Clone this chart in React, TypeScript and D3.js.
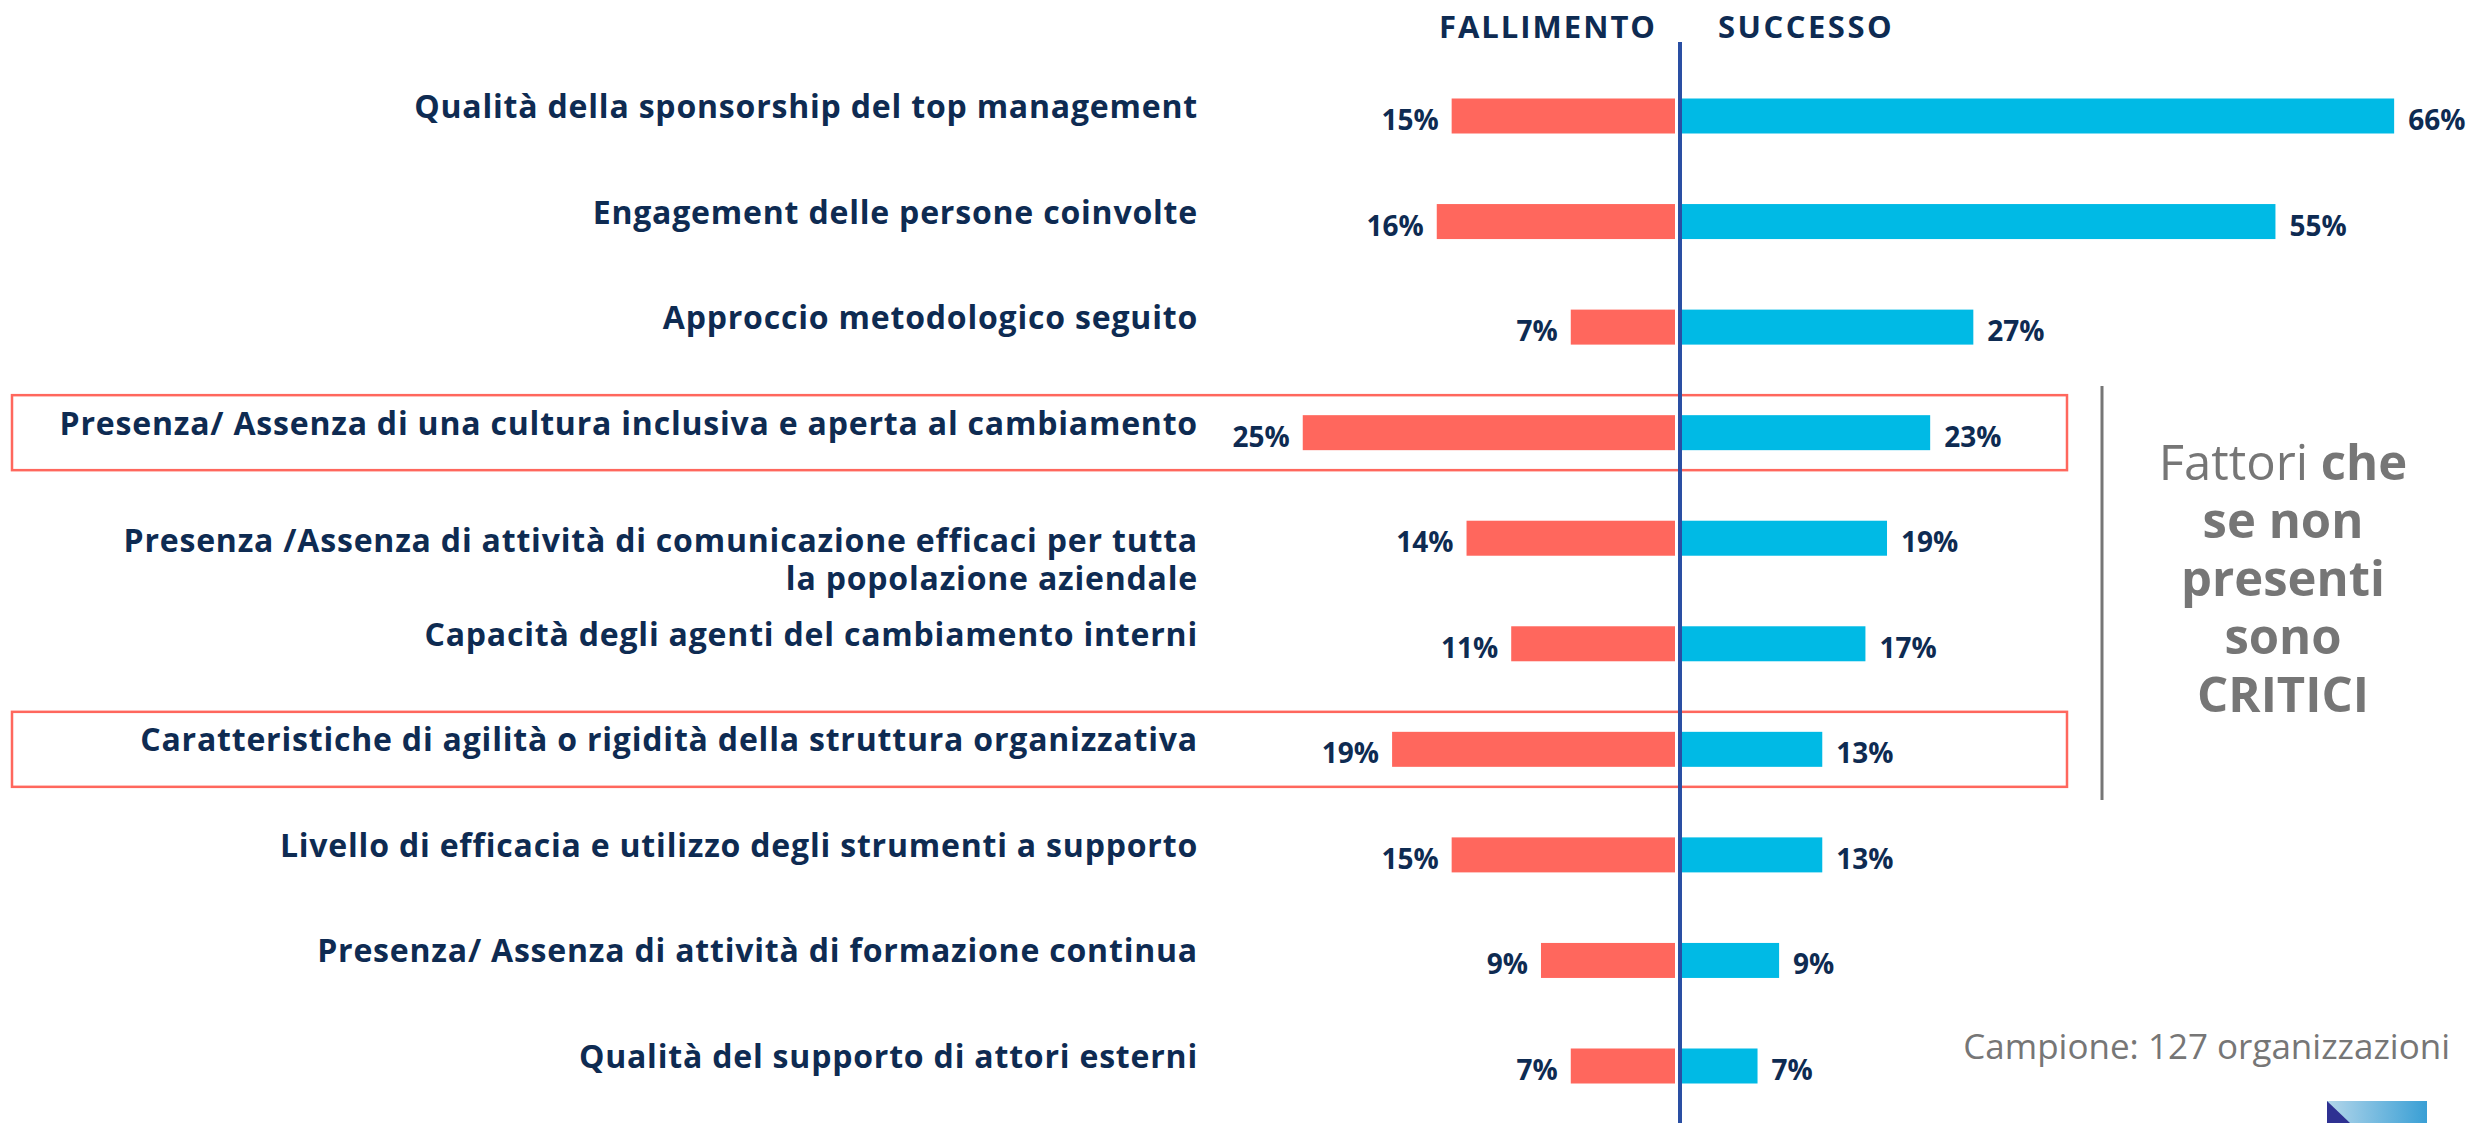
import React, { useEffect, useRef } from 'react';
import * as d3 from 'd3';

// categories (top to bottom); a "|" splits a label over two lines
const categories = [
  'Qualità della sponsorship del top management',
  'Engagement delle persone coinvolte',
  'Approccio metodologico seguito',
  'Presenza/ Assenza di una cultura inclusiva e aperta al cambiamento',
  'Presenza /Assenza di attività di comunicazione efficaci per tutta|la popolazione aziendale',
  'Capacità degli agenti del cambiamento interni',
  'Caratteristiche di agilità o rigidità della struttura organizzativa',
  'Livello di efficacia e utilizzo degli strumenti a supporto',
  'Presenza/ Assenza di attività di formazione continua',
  'Qualità del supporto di attori esterni',
];
const fallimento = [15, 16, 7, 25, 14, 11, 19, 15, 9, 7];
const successo = [66, 55, 27, 23, 19, 17, 13, 13, 9, 7];
const highlighted = [categories[3], categories[6]];
const sideNote = [
  [{ t: 'Fattori ', b: false }, { t: 'che', b: true }],
  [{ t: 'se non', b: true }],
  [{ t: 'presenti', b: true }],
  [{ t: 'sono', b: true }],
  [{ t: 'CRITICI', b: true }],
];
const sampleNote = 'Campione: 127 organizzazioni';

const W = 2471;
const H = 1123;
const NAVY = '#0e2b52';
const RED = '#ff675d';
const BLUE = '#00bae5';
const GREY = '#767676';
const FONT = '"Open Sans", Lato, sans-serif';

const App: React.FC = () => {
  const svgRef = useRef<SVGSVGElement>(null);

  useEffect(() => {
    const svg = d3.select(svgRef.current);
    svg.selectAll('*').remove();

    const axisX = 1680;
    const barH = 35;

    const y = d3.scalePoint<string>().domain(categories).range([116, 1066]);
    // the two halves use their own scales
    const xRed = d3.scaleLinear().domain([0, 100]).range([axisX - 5, axisX - 5 - 1489]);
    const xBlue = d3.scaleLinear().domain([0, 100]).range([axisX + 2, axisX + 2 + 1079]);

    const rows = categories.map((c, i) => ({ c, f: fallimento[i], s: successo[i] }));

    // highlight boxes
    svg.append('g')
      .selectAll('rect')
      .data(highlighted)
      .enter()
      .append('rect')
      .attr('x', 12)
      .attr('y', d => (y(d) as number) - 37.5)
      .attr('width', 2055)
      .attr('height', 75)
      .attr('fill', 'none')
      .attr('stroke', RED)
      .attr('stroke-width', 2.5);

    // bars
    const g = svg.append('g');
    g.selectAll('.bar-f')
      .data(rows)
      .enter()
      .append('rect')
      .attr('x', d => xRed(d.f))
      .attr('y', d => (y(d.c) as number) - barH / 2)
      .attr('width', d => xRed(0) - xRed(d.f))
      .attr('height', barH)
      .attr('fill', RED);

    g.selectAll('.bar-s')
      .data(rows)
      .enter()
      .append('rect')
      .attr('x', xBlue(0))
      .attr('y', d => (y(d.c) as number) - barH / 2)
      .attr('width', d => xBlue(d.s) - xBlue(0))
      .attr('height', barH)
      .attr('fill', BLUE);

    // value labels
    g.selectAll('.lab-f')
      .data(rows)
      .enter()
      .append('text')
      .attr('x', d => xRed(d.f) - 13)
      .attr('y', d => (y(d.c) as number) + 14)
      .attr('text-anchor', 'end')
      .style('font-family', FONT)
      .style('font-weight', 700)
      .style('font-size', '28px')
      .style('fill', NAVY)
      .text(d => `${d.f}%`);

    g.selectAll('.lab-s')
      .data(rows)
      .enter()
      .append('text')
      .attr('x', d => xBlue(d.s) + 14)
      .attr('y', d => (y(d.c) as number) + 14)
      .style('font-family', FONT)
      .style('font-weight', 700)
      .style('font-size', '28px')
      .style('fill', NAVY)
      .text(d => `${d.s}%`);

    // category labels, one text per line
    const catLines = categories.flatMap(c => {
      const parts = c.split('|');
      const cy = y(c) as number;
      const first = parts.length > 1 ? cy + 14 : cy + 2;
      return parts.map((p, k) => ({ p, yy: first + k * 38 }));
    });
    svg.append('g')
      .selectAll('text')
      .data(catLines)
      .enter()
      .append('text')
      .attr('x', 1198)
      .attr('y', d => d.yy)
      .attr('text-anchor', 'end')
      .style('font-family', FONT)
      .style('font-weight', 700)
      .style('font-size', '32px')
      .style('letter-spacing', '0.8px')
      .style('fill', NAVY)
      .text(d => d.p);

    // centre axis
    svg.append('line')
      .attr('x1', axisX)
      .attr('x2', axisX)
      .attr('y1', 42)
      .attr('y2', H)
      .attr('stroke', '#2a4fa3')
      .attr('stroke-width', 4);

    // headers
    svg.append('text')
      .attr('x', 1657)
      .attr('y', 38)
      .attr('text-anchor', 'end')
      .style('font-family', FONT)
      .style('font-weight', 700)
      .style('font-size', '31px')
      .style('letter-spacing', '2px')
      .style('fill', NAVY)
      .text('FALLIMENTO');
    svg.append('text')
      .attr('x', 1718)
      .attr('y', 38)
      .style('font-family', FONT)
      .style('font-weight', 700)
      .style('font-size', '31px')
      .style('letter-spacing', '2.5px')
      .style('fill', NAVY)
      .text('SUCCESSO');

    // side note
    svg.append('line')
      .attr('x1', 2102)
      .attr('x2', 2102)
      .attr('y1', 386)
      .attr('y2', 800)
      .attr('stroke', GREY)
      .attr('stroke-width', 3);

    sideNote.forEach((line, k) => {
      const t = svg.append('text')
        .attr('x', 2283)
        .attr('y', 480 + k * 58)
        .attr('text-anchor', 'middle')
        .style('font-family', FONT)
        .style('font-size', '49px')
        .style('fill', GREY);
      line.forEach(part => {
        t.append('tspan')
          .style('font-weight', part.b ? 700 : 400)
          .text(part.t);
      });
    });

    svg.append('text')
      .attr('x', 2450)
      .attr('y', 1059)
      .attr('text-anchor', 'end')
      .style('font-family', FONT)
      .style('font-size', '35px')
      .style('fill', GREY)
      .text(sampleNote);

    // little logo in the corner
    const defs = svg.append('defs');
    const grad = defs.append('linearGradient')
      .attr('id', 'logoGrad')
      .attr('x1', '0%').attr('y1', '0%')
      .attr('x2', '100%').attr('y2', '0%');
    grad.append('stop').attr('offset', '0%').attr('stop-color', '#b3d6ea');
    grad.append('stop').attr('offset', '100%').attr('stop-color', '#399fd5');
    svg.append('rect')
      .attr('x', 2327).attr('y', 1101)
      .attr('width', 100).attr('height', 22)
      .attr('fill', 'url(#logoGrad)');
    svg.append('path')
      .attr('d', 'M2327,1101 L2350,1123 L2327,1123 Z')
      .attr('fill', '#2e3192');
  }, []);

  return (
    <svg
      ref={svgRef}
      width={W}
      height={H}
      style={{ position: 'absolute', left: 0, top: 0, display: 'block', background: '#fff' }}
    />
  );
};

export default App;
